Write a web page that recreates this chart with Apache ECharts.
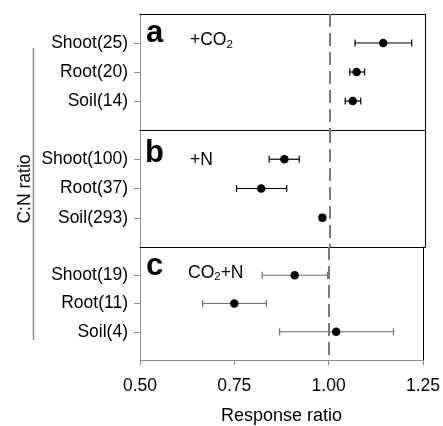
<!DOCTYPE html>
<html>
<head>
<meta charset="utf-8">
<script src="https://cdn.jsdelivr.net/npm/echarts@6/dist/echarts.min.js"></script>
<style>html,body{margin:0;padding:0;background:#fff;}#c{width:443px;height:426px;}</style>
</head>
<body>
<div id="c"></div>
<script>
// ---- data ----
var xTicks = [0.50, 0.75, 1.00, 1.25];
var refValue = 1.0;
var panelLetters = ['a', 'b', 'c'];
var treatments = ['+CO{s|2}', '+N', 'CO{s|2}+N'];

var catsA = ['Shoot(25)', 'Root(20)', 'Soil(14)'];
var meanA = [1.140, 1.070, 1.060];
var lowA  = [1.066, 1.052, 1.040];
var highA = [1.215, 1.091, 1.081];

var catsB = ['Shoot(100)', 'Root(37)', 'Soil(293)'];
var meanB = [0.880, 0.819, 0.980];
var lowB  = [0.840, 0.754, 0.973];
var highB = [0.919, 0.886, 0.987];

var catsC = ['Shoot(19)', 'Root(11)', 'Soil(4)'];
var meanC = [0.910, 0.750, 1.020];
var lowC  = [0.824, 0.666, 0.870];
var highC = [0.997, 0.835, 1.172];

var yTitle = 'C:N ratio';
var xTitle = 'Response ratio';

// ---- build ----
var FONT = '"Liberation Sans", Arial, sans-serif';
var FS = 17.5;
var panels = [
  {cats: catsA, mean: meanA, low: lowA, high: highA, barColor: '#000'},
  {cats: catsB, mean: meanB, low: lowB, high: highB, barColor: '#000'},
  {cats: catsC, mean: meanC, low: lowC, high: highC, barColor: '#6e6e6e'}
];
var gridTops = [14, 130, 247];
var gridH = [116, 117, 117];

var grids = [], xAxes = [], yAxes = [], series = [];
panels.forEach(function (p, i) {
  grids.push({left: 140, right: 18, top: gridTops[i], height: gridH[i], containLabel: false});
  var isLast = (i === panels.length - 1);
  xAxes.push({
    type: 'value', gridIndex: i, position: 'bottom',
    min: xTicks[0], max: xTicks[xTicks.length - 1], interval: xTicks[1] - xTicks[0],
    axisLine: {show: true, onZero: false, lineStyle: {color: isLast ? '#8a8a8a' : '#000', width: 1}},
    axisTick: {show: isLast, length: 5, lineStyle: {color: '#8a8a8a'}},
    axisLabel: {show: isLast, fontSize: FS, fontFamily: FONT, color: '#000', margin: 17,
      formatter: function (v) { return v.toFixed(2); }},
    splitLine: {show: false},
    name: isLast ? xTitle : '', nameLocation: 'middle', nameGap: 47,
    nameTextStyle: {fontSize: 18, fontFamily: FONT, color: '#000'}
  });
  var yData = [''].concat(p.cats).concat(['']);
  yAxes.push({
    type: 'category', gridIndex: i, position: 'left', inverse: true, boundaryGap: false,
    data: yData,
    axisLine: {show: true, lineStyle: {color: '#8a8a8a', width: 1}},
    axisTick: {show: true, length: 6, lineStyle: {color: '#8a8a8a'},
      interval: function (idx, val) { return val !== ''; }},
    axisLabel: {fontSize: FS, fontFamily: FONT, color: '#000', margin: 12,
      interval: function (idx, val) { return val !== ''; }},
    splitLine: {show: false}
  });
  // right frame
  yAxes.push({
    type: 'value', gridIndex: i, position: 'right', min: 0, max: 1,
    axisLine: {show: true, lineStyle: {color: '#000', width: 1}},
    axisTick: {show: false}, axisLabel: {show: false}, splitLine: {show: false}
  });
  var yIdx = yAxes.length - 2;
  var errData = p.cats.map(function (c, k) { return [p.low[k], p.high[k], c]; });
  var ptData = p.cats.map(function (c, k) { return [p.mean[k], c]; });
  (function (color) {
    series.push({
      type: 'custom', xAxisIndex: i, yAxisIndex: yIdx, data: errData,
      encode: {x: [0, 1], y: 2},
      renderItem: function (params, api) {
        var yv = api.value(2);
        var a = api.coord([api.value(0), yv]);
        var b = api.coord([api.value(1), yv]);
        var h = 3.5;
        var st = {stroke: color, lineWidth: 1.2, fill: null};
        return {type: 'group', children: [
          {type: 'line', shape: {x1: a[0], y1: a[1], x2: b[0], y2: b[1]}, style: st},
          {type: 'line', shape: {x1: a[0], y1: a[1] - h, x2: a[0], y2: a[1] + h}, style: st},
          {type: 'line', shape: {x1: b[0], y1: b[1] - h, x2: b[0], y2: b[1] + h}, style: st}
        ]};
      },
      z: 3
    });
  })(p.barColor);
  series.push({
    type: 'scatter', xAxisIndex: i, yAxisIndex: yIdx, data: ptData,
    symbol: 'circle', symbolSize: 8.5, itemStyle: {color: '#000', opacity: 1}, z: 4,
    markLine: {
      silent: true, symbol: ['none', 'none'], label: {show: false},
      lineStyle: {color: '#7a7a7a', width: 2, type: [13, 6]},
      data: [{xAxis: refValue}], animation: false, z: 2
    }
  });
});
// top frame line
xAxes.push({
  type: 'value', gridIndex: 0, position: 'top', min: xTicks[0], max: xTicks[xTicks.length - 1],
  axisLine: {show: true, onZero: false, lineStyle: {color: '#000', width: 1}},
  axisTick: {show: false}, axisLabel: {show: false}, splitLine: {show: false}
});

var letterPos = [[146, 33], [145, 153.5], [146, 266.5]];
var treatPos = [[190, 40.5], [190, 160], [188, 273]];
var graphics = [];
panelLetters.forEach(function (L, i) {
  graphics.push({type: 'text', x: letterPos[i][0], y: letterPos[i][1], z: 10,
    style: {text: L, font: 'bold 31px ' + FONT, fill: '#000', verticalAlign: 'middle'}});
  graphics.push({type: 'text', x: treatPos[i][0], y: treatPos[i][1], z: 10,
    style: {text: treatments[i], fontSize: FS, fontFamily: FONT, fill: '#000',
      verticalAlign: 'middle', lineHeight: 20,
      rich: {s: {fontSize: 11.5, fontFamily: FONT, fill: '#000', lineHeight: 8, verticalAlign: 'bottom'}}}});
});
graphics.push({type: 'line', z: 10, shape: {x1: 33.5, y1: 48, x2: 33.5, y2: 340},
  style: {stroke: '#8a8a8a', lineWidth: 1.5}});
graphics.push({type: 'text', x: 25, y: 189, rotation: Math.PI / 2, z: 10,
  style: {text: yTitle, fontSize: FS, fontFamily: FONT, fill: '#000', align: 'center', verticalAlign: 'middle'}});

var chart = echarts.init(document.getElementById('c'), null, {renderer: 'canvas'});
chart.setOption({
  animation: false,
  backgroundColor: '#fff',
  grid: grids, xAxis: xAxes, yAxis: yAxes, series: series, graphic: graphics
});
</script>
</body>
</html>
